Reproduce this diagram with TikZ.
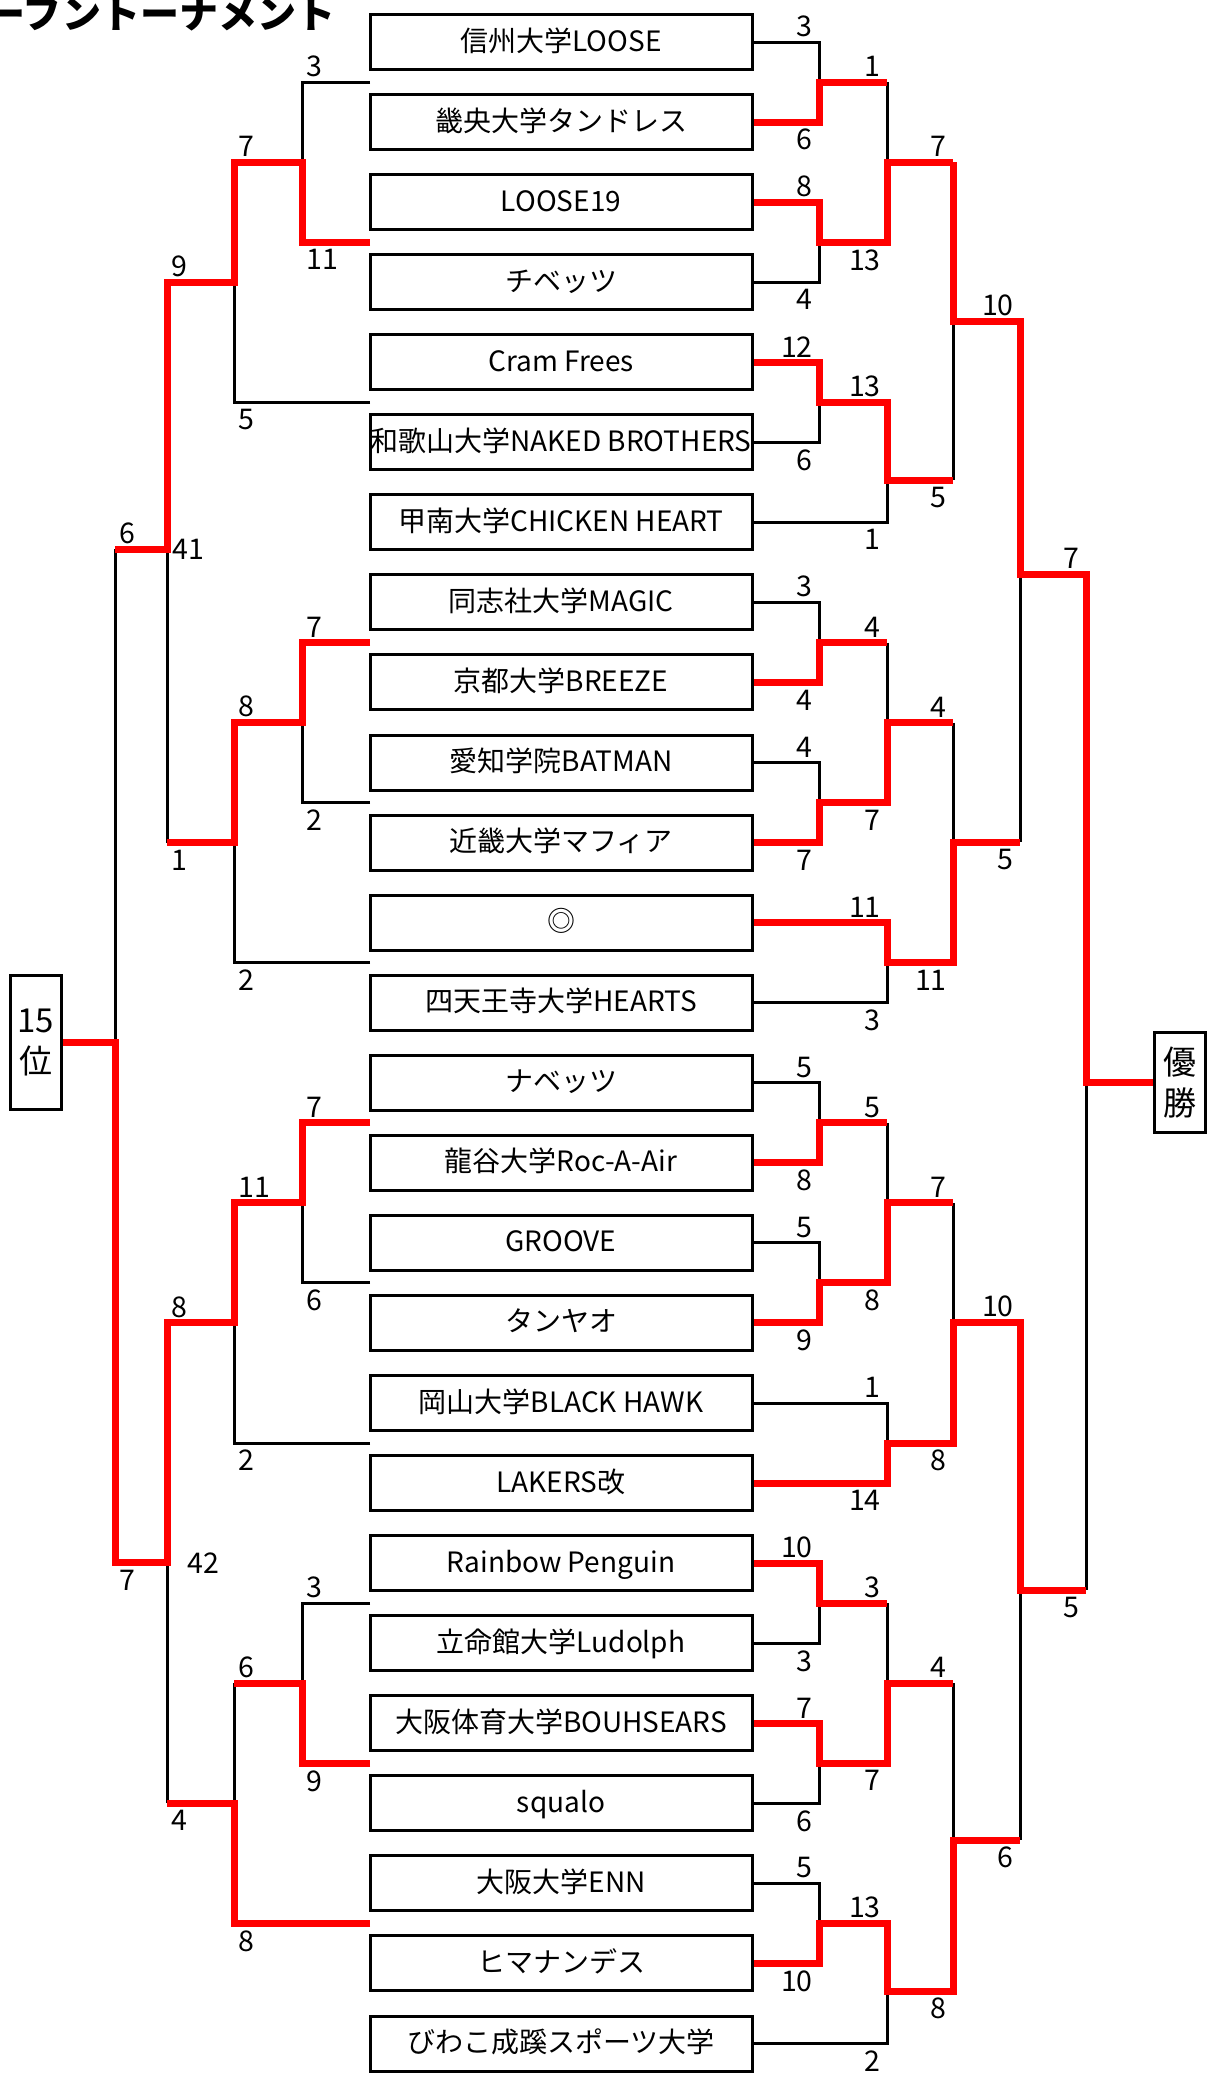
\documentclass[tikz,border=0pt]{standalone}
\usepackage{fontspec}
\setmainfont{Noto Sans CJK JP}

\begin{document}
\begin{tikzpicture}[
  x=1pt, y=-1pt,
  team/.style={
    draw,
    line width=3pt,
    minimum width=382pt,
    minimum height=55pt,
    inner sep=0pt,
    text height=21pt,
    text depth=3pt,
    font=\fontsize{28}{32}\selectfont
  },
  place/.style={
    draw,
    line width=3pt,
    align=center,
    inner sep=0pt,
    font=\fontsize{33}{41}\selectfont
  },
  lose/.style={line width=3pt},
  win/.style={line width=7pt, red, line join=miter},
  score/.style={inner sep=0pt, font=\fontsize{28.5}{32}\selectfont},
  above end/.style={score, anchor=south east, xshift=-6pt, yshift=5pt},
  below end/.style={score, anchor=north east, xshift=-6pt, yshift=-7pt},
  above start/.style={score, anchor=south west, xshift=4pt, yshift=5pt},
  below start/.style={score, anchor=north west, xshift=4pt, yshift=-7pt},
  heading/.style={inner sep=0pt, anchor=base west, font=\fontsize{39}{42}\selectfont\bfseries}
]
  \useasboundingbox (0,0) rectangle (1208,2077);
  \clip (0,0) rectangle (1208,2077);

  \node[heading] (title) at (-14,28) {ーフントーナメント};

  \foreach \name [count=\i from 0] in {信州大学LOOSE, 畿央大学タンドレス, LOOSE19, チベッツ,
      Cram Frees, 和歌山大学NAKED BROTHERS, 甲南大学CHICKEN HEART, 同志社大学MAGIC,
      京都大学BREEZE, 愛知学院BATMAN, 近畿大学マフィア, ◎, 四天王寺大学HEARTS,
      ナベッツ, 龍谷大学Roc-A-Air, GROOVE, タンヤオ, 岡山大学BLACK HAWK, LAKERS改,
      Rainbow Penguin, 立命館大学Ludolph, 大阪体育大学BOUHSEARS, squalo,
      大阪大学ENN, ヒマナンデス, びわこ成蹊スポーツ大学}
    \node[team] (t\i) at (561,{42+80.06*\i}) {\name};

  \foreach \i in {0,...,24}
    \coordinate (g\i) at (370,{82.03+80.06*\i});

  \node[place, minimum width=51pt, minimum height=134pt] (rank) at (35.8,1042.5) {15\\位};
  \node[place, minimum width=51pt, minimum height=100pt] (champ) at (1180,1082.5) {優\\勝};

  \coordinate (a1) at (819,82.0);
  \coordinate (a2) at (819,242.2);
  \coordinate (a3) at (819,402.3);
  \coordinate (a4) at (819,642.5);
  \coordinate (a5) at (819,802.6);
  \coordinate (a6) at (819,1122.8);
  \coordinate (a7) at (819,1282.9);
  \coordinate (a8) at (819,1603.2);
  \coordinate (a9) at (819,1763.3);
  \coordinate (a10) at (819,1923.4);
  \coordinate (b1) at (887,162);
  \coordinate (b2) at (887,480);
  \coordinate (b3) at (887,722.5);
  \coordinate (b4) at (887,962.7);
  \coordinate (b5) at (887,1202.8);
  \coordinate (b6) at (887,1443);
  \coordinate (b7) at (887,1683);
  \coordinate (b8) at (887,1991);
  \coordinate (c1) at (953,321);
  \coordinate (c2) at (953,842);
  \coordinate (c3) at (953,1322);
  \coordinate (c4) at (953,1840);
  \coordinate (d1) at (1020,574);
  \coordinate (d2) at (1020,1590);
  \coordinate (e1) at (1086,1082.5);

  \coordinate (p1) at (302,162);
  \coordinate (p2) at (234,282);
  \coordinate (p3) at (167,549);
  \coordinate (p4) at (115,1042.5);
  \coordinate (q1) at (302,722.5);
  \coordinate (q2) at (234,842.6);
  \coordinate (r1) at (302,1202.8);
  \coordinate (r2) at (234,1322.8);
  \coordinate (r3) at (167,1562.8);
  \coordinate (s1) at (302,1683);
  \coordinate (s2) at (234,1803);

  \draw[lose] (t0.east) -| (a1);
  \draw[lose] (t3.east) -| (a2);
  \draw[lose] (a1 -| b1) -- (b1);
  \draw[lose] (t5.east) -| (a3);
  \draw[lose] (t6.east) -| (b2);
  \draw[lose] (b2 -| c1) -- (c1);
  \draw[lose] (c2 -| d1) -- (d1);
  \draw[lose] (t7.east) -| (a4);
  \draw[lose] (t9.east) -| (a5);
  \draw[lose] (a4 -| b3) -- (b3);
  \draw[lose] (t12.east) -| (b4);
  \draw[lose] (b3 -| c2) -- (c2);
  \draw[lose] (t13.east) -| (a6);
  \draw[lose] (t15.east) -| (a7);
  \draw[lose] (a6 -| b5) -- (b5);
  \draw[lose] (t17.east) -| (b6);
  \draw[lose] (b5 -| c3) -- (c3);
  \draw[lose] (d2 -| e1) -- (e1);
  \draw[lose] (t20.east) -| (a8);
  \draw[lose] (t22.east) -| (a9);
  \draw[lose] (a8 -| b7) -- (b7);
  \draw[lose] (t23.east) -| (a10);
  \draw[lose] (t25.east) -| (b8);
  \draw[lose] (b7 -| c4) -- (c4);
  \draw[lose] (c4 -| d2) -- (d2);

  \draw[lose] (g0) -| (p1);
  \draw[lose] (g4) -| (p2);
  \draw[lose] (p3) -- (q2 -| p3);
  \draw[lose] (p3 -| p4) -- (p4);
  \draw[lose] (g9) -| (q1);
  \draw[lose] (g11) -| (q2);
  \draw[lose] (g15) -| (r1);
  \draw[lose] (g17) -| (r2);
  \draw[lose] (r3) -- (s2 -| r3);
  \draw[lose] (g19) -| (s1);
  \draw[lose] (s1 -| s2) -- (s2);

  \draw[win] (t1.east) -| (a1) -- (a1 -| b1);
  \draw[win] (t2.east) -| (a2) -- (a2 -| b1) -- (b1) -- (b1 -| c1);
  \draw[win] (t4.east) -| (a3) -- (a3 -| b2) -- (b2) -- (b2 -| c1);
  \draw[win] (b1 -| c1) -- (c1) -- (c1 -| d1) -- (d1) -- (d1 -| e1) -- (e1) -- (champ.west);
  \draw[win] (t8.east) -| (a4) -- (a4 -| b3);
  \draw[win] (t10.east) -| (a5) -- (a5 -| b3) -- (b3) -- (b3 -| c2);
  \draw[win] (t11.east) -| (b4) -- (b4 -| c2) -- (c2) -- (c2 -| d1);
  \draw[win] (t14.east) -| (a6) -- (a6 -| b5);
  \draw[win] (t16.east) -| (a7) -- (a7 -| b5) -- (b5) -- (b5 -| c3);
  \draw[win] (t18.east) -| (b6) -- (b6 -| c3) -- (c3) -- (c3 -| d2) -- (d2) -- (d2 -| e1);
  \draw[win] (t19.east) -| (a8) -- (a8 -| b7);
  \draw[win] (t21.east) -| (a9) -- (a9 -| b7) -- (b7) -- (b7 -| c4);
  \draw[win] (t24.east) -| (a10) -- (a10 -| b8) -- (b8) -- (b8 -| c4) -- (c4) -- (c4 -| d2);

  \draw[win] (g2) -| (p1) -- (p1 -| p2) -- (p2) -- (p2 -| p3) -- (p3) -- (p3 -| p4);
  \draw[win] (g7) -| (q1) -- (q1 -| q2) -- (q2) -- (q2 -| p3);
  \draw[win] (g13) -| (r1) -- (r1 -| r2) -- (r2) -- (r2 -| r3) -- (r3) -- (r3 -| p4) -- (p4) -- (rank.east);
  \draw[win] (g21) -| (s1) -- (s1 -| s2);
  \draw[win] (g23) -| (s2) -- (s2 -| r3);

  \node[above end] (n0) at (t0.east -| a1) {3};
  \node[below end] (n1) at (t1.east -| a1) {6};
  \node[above end] (n2) at (a1 -| b1) {1};
  \node[above end] (n3) at (t2.east -| a2) {8};
  \node[below end] (n4) at (a2 -| b1) {13};
  \node[below end] (n5) at (t3.east -| a2) {4};
  \node[above end] (n6) at (b1 -| c1) {7};
  \node[above end] (n7) at (t4.east -| a3) {12};
  \node[above end] (n8) at (a3 -| b2) {13};
  \node[below end] (n9) at (t5.east -| a3) {6};
  \node[below end] (n10) at (b2 -| c1) {5};
  \node[below end] (n11) at (t6.east -| b2) {1};
  \node[above end] (n12) at (c1 -| d1) {10};
  \node[above end] (n13) at (d1 -| e1) {7};

  \node[above end] (n14) at (t7.east -| a4) {3};
  \node[above end] (n15) at (a4 -| b3) {4};
  \node[below end] (n16) at (t8.east -| a4) {4};
  \node[above end] (n17) at (t9.east -| a5) {4};
  \node[below end] (n18) at (a5 -| b3) {7};
  \node[below end] (n19) at (t10.east -| a5) {7};
  \node[above end] (n20) at (b3 -| c2) {4};
  \node[above end] (n21) at (t11.east -| b4) {11};
  \node[below end] (n22) at (b4 -| c2) {11};
  \node[below end] (n23) at (t12.east -| b4) {3};
  \node[below end] (n24) at (c2 -| d1) {5};

  \node[above end] (n25) at (t13.east -| a6) {5};
  \node[above end] (n26) at (a6 -| b5) {5};
  \node[below end] (n27) at (t14.east -| a6) {8};
  \node[above end] (n28) at (t15.east -| a7) {5};
  \node[below end] (n29) at (a7 -| b5) {8};
  \node[below end] (n30) at (t16.east -| a7) {9};
  \node[above end] (n31) at (b5 -| c3) {7};
  \node[above end] (n32) at (t17.east -| b6) {1};
  \node[below end] (n33) at (b6 -| c3) {8};
  \node[below end] (n34) at (t18.east -| b6) {14};
  \node[above end] (n35) at (c3 -| d2) {10};
  \node[below end] (n36) at (d2 -| e1) {5};

  \node[above end] (n37) at (t19.east -| a8) {10};
  \node[above end] (n38) at (a8 -| b7) {3};
  \node[below end] (n39) at (t20.east -| a8) {3};
  \node[above end] (n40) at (t21.east -| a9) {7};
  \node[below end] (n41) at (a9 -| b7) {7};
  \node[below end] (n42) at (t22.east -| a9) {6};
  \node[above end] (n43) at (b7 -| c4) {4};
  \node[above end] (n44) at (t23.east -| a10) {5};
  \node[above end] (n45) at (a10 -| b8) {13};
  \node[below end] (n46) at (t24.east -| a10) {10};
  \node[below end] (n47) at (b8 -| c4) {8};
  \node[below end] (n48) at (t25.east -| b8) {2};
  \node[below end] (n49) at (c4 -| d2) {6};

  \node[above start] (m0) at (p1 |- g0) {3};
  \node[below start] (m1) at (p1 |- g2) {11};
  \node[above start] (m2) at (p1 -| p2) {7};
  \node[below start] (m3) at (p2 |- g4) {5};
  \node[above start] (m4) at (p2 -| p3) {9};
  \node[above start] (m5) at (p3 -| p4) {6};
  \node[score, anchor=west, xshift=5pt] (m6) at (p3) {41};
  \node[above start] (m7) at (q1 |- g7) {7};
  \node[below start] (m8) at (q1 |- g9) {2};
  \node[above start] (m9) at (q1 -| q2) {8};
  \node[below start] (m10) at (q2 |- g11) {2};
  \node[below start] (m11) at (q2 -| p3) {1};
  \node[above start] (m12) at (r1 |- g13) {7};
  \node[below start] (m13) at (r1 |- g15) {6};
  \node[above start] (m14) at (r1 -| r2) {11};
  \node[below start] (m15) at (r2 |- g17) {2};
  \node[above start] (m16) at (r2 -| r3) {8};
  \node[below start] (m17) at (r3 -| p4) {7};
  \node[score, anchor=west, xshift=20pt] (m18) at (r3) {42};
  \node[above start] (m19) at (s1 |- g19) {3};
  \node[below start] (m20) at (s1 |- g21) {9};
  \node[above start] (m21) at (s1 -| s2) {6};
  \node[below start] (m22) at (s2 |- g23) {8};
  \node[below start] (m23) at (s2 -| r3) {4};
\end{tikzpicture}
\end{document}
